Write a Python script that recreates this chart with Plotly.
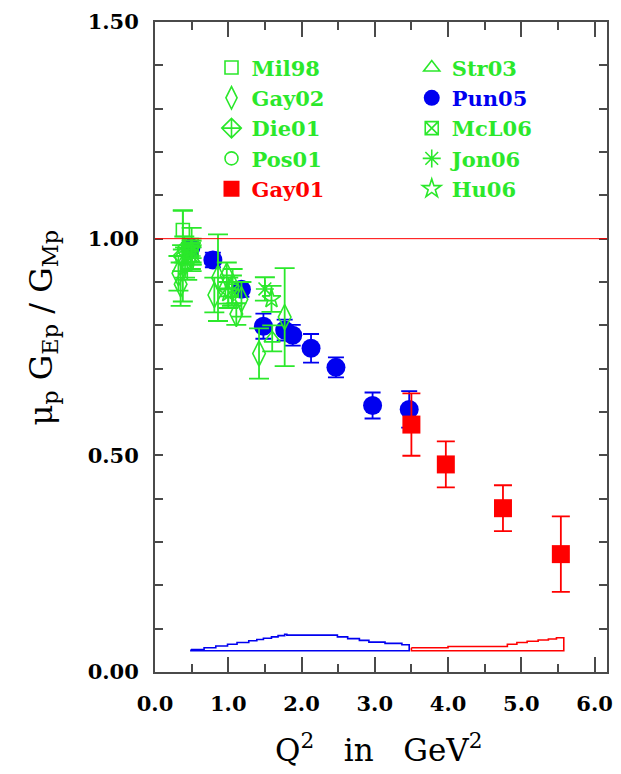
import plotly.graph_objects as go

# ---- measured ratio mu_p G_Ep / G_Mp versus Q^2 (GeV^2) ----
q2_mil98 = [0.38, 0.50]
r_mil98 = [1.02, 0.985]
e_mil98 = [0.045, 0.04]

q2_gay02 = [0.32, 0.35, 0.41, 0.49, 0.81, 0.86, 0.98, 1.06, 1.11, 1.18, 1.42, 1.77]
r_gay02 = [0.92, 0.895, 0.945, 0.96, 0.87, 0.91, 0.915, 0.89, 0.826, 0.86, 0.735, 0.819]
e_gay02 = [0.04, 0.05, 0.035, 0.03, 0.04, 0.10, 0.03, 0.04, 0.025, 0.04, 0.058, 0.113]

q2_die01 = [0.38]
r_die01 = [0.96]
e_die01 = [0.105]

q2_pos01 = [0.37, 0.40, 0.44]
r_pos01 = [0.955, 0.975, 0.94]
e_pos01 = [0.03, 0.03, 0.035]

q2_gay01 = [3.50, 3.97, 4.75, 5.54]
r_gay01 = [0.571, 0.479, 0.378, 0.272]
e_gay01 = [0.072, 0.053, 0.053, 0.087]

q2_str03 = [0.50, 1.00, 1.60]
r_str03 = [0.955, 0.875, 0.77]
e_str03 = [0.03, 0.035, 0.03]

q2_pun05 = [0.49, 0.79, 1.18, 1.48, 1.77, 1.88, 2.13, 2.47, 2.97, 3.47]
r_pun05 = [0.979, 0.951, 0.883, 0.798, 0.789, 0.777, 0.747, 0.703, 0.615, 0.606]
e_pun05 = [0.016, 0.017, 0.017, 0.029, 0.024, 0.024, 0.033, 0.023, 0.030, 0.042]

q2_mcl06 = [0.50, 1.05]
r_mcl06 = [0.97, 0.88]
e_mcl06 = [0.03, 0.035]

q2_jon06 = [0.50, 1.50]
r_jon06 = [0.96, 0.884]
e_jon06 = [0.02, 0.027]

q2_hu06 = [0.50, 1.00, 1.59]
r_hu06 = [0.975, 0.875, 0.861]
e_hu06 = [0.02, 0.025, 0.03]

# systematic-error bands (stepped upper edge above a common base)
sys_base = 0.049
q2_sys_pun05 = [0.49, 0.67, 0.83, 0.99, 1.12, 1.28, 1.39, 1.48, 1.59, 1.68, 1.77, 1.80,
                2.49, 2.63, 2.79, 2.92, 3.14, 3.37, 3.47]
top_sys_pun05 = [0.052, 0.056, 0.060, 0.064, 0.068, 0.072, 0.075, 0.078, 0.081, 0.084, 0.087,
                 0.085, 0.081, 0.077, 0.073, 0.069, 0.066, 0.063, 0.063]
q2_sys_gay01 = [3.50, 4.00, 4.81, 4.94, 5.08, 5.23, 5.37, 5.48, 5.58]
top_sys_gay01 = [0.056, 0.059, 0.064, 0.068, 0.071, 0.074, 0.076, 0.079, 0.079]

unity = 1.0

GREEN = "#2be82b"
BLUE = "#0000f0"
RED = "#ff0000"
AXIS = "#4a4a4a"
SERIF = "DejaVu Serif"

fig = go.Figure()


def band(q2, top, color):
    xs = list(q2) + [q2[-1], q2[0], q2[0]]
    ys = list(top) + [sys_base, sys_base, top[0]]
    return go.Scatter(x=xs, y=ys, mode="lines", line=dict(color=color, width=1.6, shape="hv"),
                      showlegend=False, hoverinfo="skip")


fig.add_trace(band(q2_sys_pun05, top_sys_pun05, BLUE))
fig.add_trace(band(q2_sys_gay01, top_sys_gay01, RED))


def series(name, q2, r, err, symbol, size, color, legend, rank, filled=False, cap=10):
    marker = dict(symbol=symbol, size=size, color=color)
    if not filled:
        marker["line"] = dict(color=color, width=1.6)
    return go.Scatter(
        x=q2, y=r, mode="markers", name=name, marker=marker,
        error_y=dict(type="data", array=err, color=color, thickness=1.8, width=cap),
        legend=legend, legendrank=rank, legendgroup=name,
    )


# blue first so the open green symbols sit over it
fig.add_trace(series('<span style="color:#0000f0">Pun05</span>', q2_pun05, r_pun05, e_pun05,
                     "circle", 19, BLUE, "legend2", 2, filled=True, cap=8))
fig.add_trace(series("Mil98", q2_mil98, r_mil98, e_mil98, "square-open", 13, GREEN, "legend", 1))
fig.add_trace(series("Gay02", q2_gay02, r_gay02, e_gay02, "diamond-tall-open", 18, GREEN, "legend", 2))
fig.add_trace(series("Die01", q2_die01, r_die01, e_die01, "diamond-cross-open", 15, GREEN, "legend", 3))
fig.add_trace(series("Pos01", q2_pos01, r_pos01, e_pos01, "circle-open", 13, GREEN, "legend", 4))
fig.add_trace(series("Str03", q2_str03, r_str03, e_str03, "triangle-up-open", 14, GREEN, "legend2", 1))
fig.add_trace(series("McL06", q2_mcl06, r_mcl06, e_mcl06, "square-x-open", 13, GREEN, "legend2", 3))
fig.add_trace(series("Jon06", q2_jon06, r_jon06, e_jon06, "asterisk-open", 15, GREEN, "legend2", 4))
fig.add_trace(series("Hu06", q2_hu06, r_hu06, e_hu06, "star-open", 14, GREEN, "legend2", 5))
fig.add_trace(series('<span style="color:#ff0000">Gay01</span>', q2_gay01, r_gay01, e_gay01,
                     "square", 18, RED, "legend", 5, filled=True, cap=9))

fig.add_hline(y=unity, line=dict(color=RED, width=1))

tick_font = dict(family=SERIF, size=21, color="black", weight="bold")
legend_font = dict(family=SERIF, size=21, color=GREEN, weight="bold")

fig.update_xaxes(
    range=[0, 6.17], dtick=1.0, tick0=0, tickformat=".1f",
    showline=True, linecolor=AXIS, linewidth=2, mirror="ticks",
    ticks="inside", ticklen=15, tickwidth=2, tickcolor=AXIS,
    minor=dict(dtick=0.5, ticks="inside", ticklen=8, tickwidth=2, tickcolor=AXIS),
    showgrid=False, zeroline=False, tickfont=tick_font, ticklabelstandoff=12,
)
fig.update_yaxes(
    range=[0, 1.5], dtick=0.5, tick0=0, tickformat=".2f",
    showline=True, linecolor=AXIS, linewidth=2, mirror="ticks",
    ticks="inside", ticklen=8, tickwidth=2, tickcolor=AXIS,
    minor=dict(dtick=0.1, ticks="inside", ticklen=8, tickwidth=2, tickcolor=AXIS),
    showgrid=False, zeroline=False, tickfont=tick_font, ticklabelstandoff=10,
)

fig.add_annotation(
    text="Q<sup>2</sup>   in   GeV<sup>2</sup>", xref="paper", yref="paper",
    x=0.495, y=-0.117, xanchor="center", yanchor="middle", showarrow=False,
    font=dict(family=SERIF, size=31, color="black"),
)
fig.add_annotation(
    text="μ<sub>p</sub> G<sub>Ep</sub> / G<sub>Mp</sub>", xref="paper", yref="paper",
    x=-0.25, y=0.53, xanchor="center", yanchor="middle", showarrow=False, textangle=-90,
    font=dict(family=SERIF, size=32, color="black"),
)

legend_common = dict(
    orientation="v", bgcolor="rgba(0,0,0,0)", borderwidth=0, font=legend_font,
    itemsizing="trace", tracegroupgap=0, yanchor="top", xanchor="left",
)

fig.update_layout(
    width=621, height=774,
    margin=dict(l=155, r=8, t=22, b=102),
    paper_bgcolor="white", plot_bgcolor="white",
    legend=dict(x=0.125, y=0.961, **legend_common),
    legend2=dict(x=0.568, y=0.961, **legend_common),
)

fig.write_html("out.html")
